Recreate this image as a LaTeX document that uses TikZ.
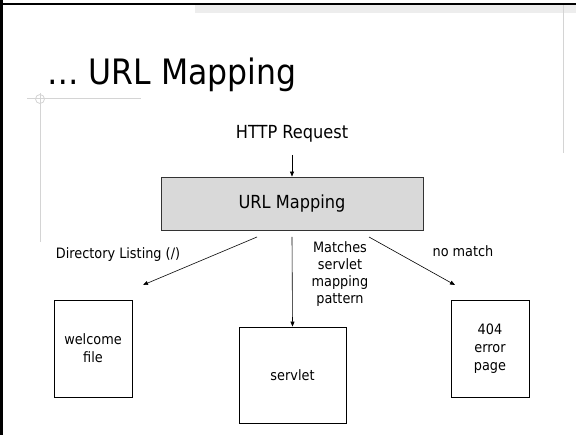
\documentclass[tikz,border=0pt]{standalone}
\usepackage{fontspec}
\setmainfont{DejaVu Sans Condensed}
\usetikzlibrary{arrows.meta}
\definecolor{boxgray}{HTML}{D9D9D9}
\definecolor{deco}{HTML}{D4D4D4}
\tikzset{
  pbox/.style={draw=black, line width=0.8pt, fill=white, inner sep=0pt, align=center, font=\fontsize{14.3}{18}\selectfont},
  conn/.style={draw=black, line width=0.6pt, -{Triangle[length=5pt,width=4pt]}},
  lbl/.style={align=center, font=\fontsize{14.3}{17}\selectfont, inner sep=0pt},
}
\begin{document}
\begin{tikzpicture}[x=1pt,y=-1pt]
\useasboundingbox (0,0) rectangle (576,435);
\fill[white] (0,0) rectangle (576,435);
% theme decoration
\fill[black!7] (195,5) rectangle (576,13);
\draw[deco, line width=1pt] (563,5) -- (563,153);
\draw[deco, line width=1pt] (27,99) -- (141,99);
\draw[deco, line width=1pt] (40,93) -- (40,242);
\draw[deco, line width=0.8pt] (40,99) circle (4.5);
% frame
\draw[black, line width=2.2pt] (0,4) -- (576,4);
\draw[black, line width=3pt] (1.5,0) -- (1.5,435);
% title
\node[anchor=base west, inner sep=0pt, font=\fontsize{35}{40}\selectfont] (title) at (47,85) {\ldots\ URL Mapping};
% diagram
\node[anchor=base, inner sep=0pt, font=\fontsize{18}{20}\selectfont] (req) at (292,139) {HTTP Request};
\node[draw=black!80, line width=0.8pt, fill=boxgray, minimum width=262pt, minimum height=53pt, inner sep=0pt, font=\fontsize{18}{20}\selectfont] (map) at (292,203.5) {URL Mapping};
\node[pbox, minimum width=78pt, minimum height=97pt] (welcome) at (93,348.5) {welcome\\file};
\node[pbox, minimum width=107pt, minimum height=96pt] (servlet) at (292.5,375) {servlet};
\node[pbox, minimum width=78pt, minimum height=97pt] (err) at (490,348.5) {404\\error\\page};
\coordinate (reqb) at (292,155);
\coordinate (ml) at (257,237);
\coordinate (mm) at (292,237);
\coordinate (mr) at (369,237);
\coordinate (wl) at (143,285);
\coordinate (er) at (455,285);
\draw[conn] (reqb) -- (map.north);
\draw[conn] (ml) -- (wl);
\draw[conn] (mm) -- (servlet.north);
\draw[conn] (mr) -- (er);
\node[lbl, anchor=base] (l1) at (118,259) {Directory Listing (/)};
\node[lbl, anchor=north] (l2) at (340,241) {Matches\\servlet\\mapping\\pattern};
\node[lbl, anchor=base] (l3) at (463,257) {no match};
\end{tikzpicture}
\end{document}
